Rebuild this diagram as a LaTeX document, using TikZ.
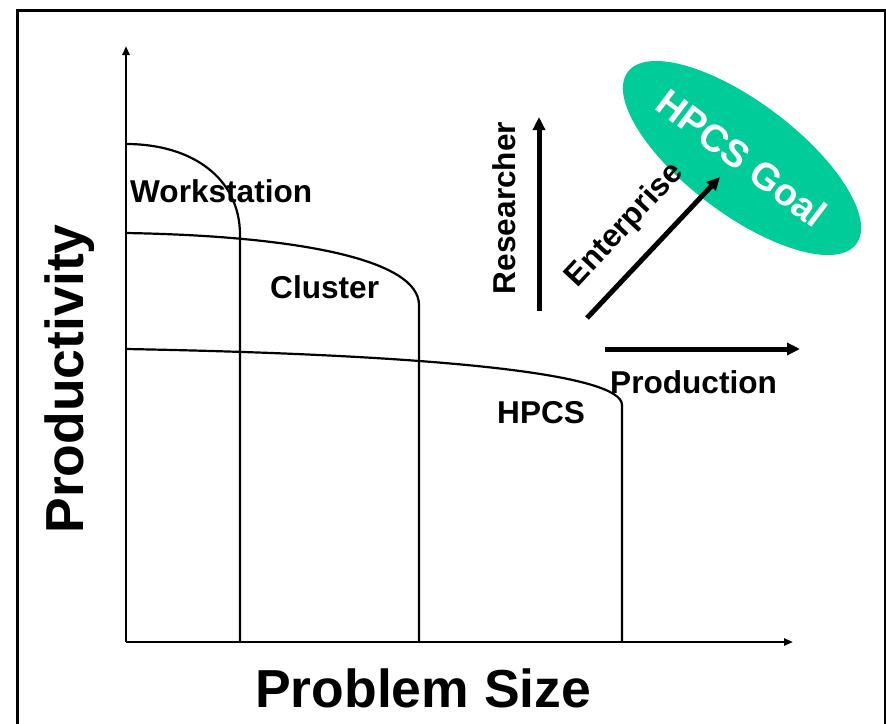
\documentclass[tikz,border=0pt]{standalone}
\usepackage{fontspec}
\setmainfont{Liberation Sans}
\usetikzlibrary{arrows.meta,shapes.geometric}
\definecolor{goalgreen}{RGB}{0,204,153}

\begin{document}
\begin{tikzpicture}[x=1pt,y=-1pt,
  axis/.style={line width=2.2pt,-{Triangle[length=9pt,width=7pt]}},
  curve/.style={line width=2.2pt},
  trend/.style={line width=5pt,-{Triangle[length=13pt,width=12pt]}},
  lbl/.style={font=\bfseries\fontsize{31.6}{36}\selectfont, inner sep=0pt},
  big/.style={font=\bfseries\fontsize{53.5}{60}\selectfont, inner sep=0pt}]

\useasboundingbox (0,0) rectangle (886,723);

% outer frame
\draw[line width=3pt] (17,10) rectangle (885,745);

% axes
\coordinate (origin) at (126,642);
\coordinate (ytip) at (126,46);
\coordinate (xtip) at (793,642);
\draw[axis] (origin) -- (ytip);
\draw[axis] (origin) -- (xtip);

% capability envelopes
\coordinate (ws0) at (126,144);
\coordinate (ws1) at (240,235);
\coordinate (ws2) at (240,642);
\draw[curve] (ws0) .. controls (192,144) and (240,178) .. (ws1) -- (ws2);

\coordinate (cl0) at (126,233);
\coordinate (cl1) at (419,305);
\coordinate (cl2) at (419,642);
\draw[curve] (cl0) .. controls (300,236) and (419,260) .. (cl1) -- (cl2);

\coordinate (hp0) at (126,349);
\coordinate (hp1) at (622,405);
\coordinate (hp2) at (622,642);
\draw[curve] (hp0) .. controls (450,355) and (622,375) .. (hp1) -- (hp2);

% region labels
\node[lbl, anchor=base west] (ws) at (130,202) {Workstation};
\node[lbl, anchor=base west] (cl) at (270,298) {Cluster};
\node[lbl, anchor=base west] (hp) at (497,423) {HPCS};

% axis titles
\node[big, anchor=base] (ylab) at (83,379) [rotate=90] {Productivity};
\node[big, anchor=base west] (xlab) at (255,707) {Problem Size};

% goal
\node[ellipse, fill=goalgreen, inner sep=0pt, minimum width=286pt,
      minimum height=112pt, rotate=-37, text=white,
      font=\bfseries\fontsize{38}{42}\selectfont] (goal) at (742,158) {HPCS Goal};

% user directions
\coordinate (r0) at (539,311);
\coordinate (r1) at (539,117);
\draw[trend] (r0) -- (r1);
\node[lbl, anchor=base, rotate=90] (res) at (515,208) {Researcher};

\coordinate (e0) at (587,318);
\coordinate (e1) at (720,177);
\draw[trend] (e0) -- (e1);
\node[lbl, anchor=base, rotate=47] (ent) at (631,231) {Enterprise};

\coordinate (p0) at (605,349);
\coordinate (p1) at (800,349);
\draw[trend] (p0) -- (p1);
\node[lbl, anchor=base west] (prod) at (610,393) {Production};

\end{tikzpicture}
\end{document}
